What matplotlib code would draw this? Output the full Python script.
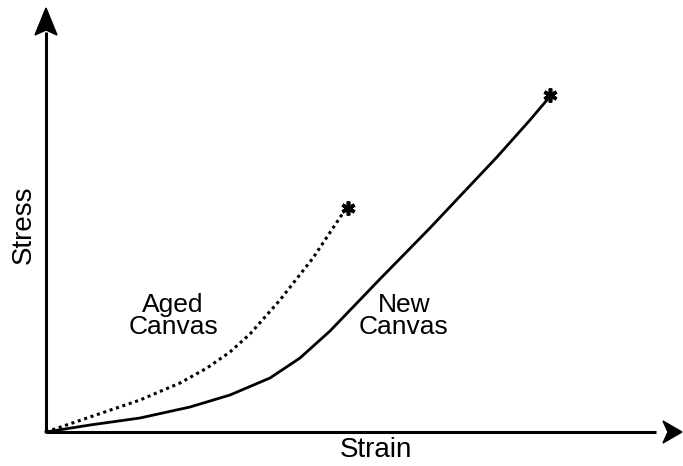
import numpy as np
import matplotlib.pyplot as plt
from matplotlib.patches import Polygon

plt.rcParams['font.family'] = ['Liberation Sans', 'DejaVu Sans']

# curvas (unidades arbitrarias)
aged_strain = [0.0, 0.44, 0.94, 1.34, 1.61, 1.84, 2.04, 2.34, 2.67, 2.97]
aged_stress = [0.0, 0.15, 0.32, 0.49, 0.64, 0.80, 0.98, 1.32, 1.74, 2.19]

new_strain = [0.0, 0.44, 0.94, 1.44, 1.84, 2.24, 2.54, 2.84, 3.34, 3.84,
              4.17, 4.51, 4.84, 5.01]
new_stress = [0.0, 0.07, 0.14, 0.25, 0.37, 0.54, 0.74, 1.01, 1.53, 2.04,
              2.39, 2.75, 3.12, 3.32]

fig = plt.figure(figsize=(6.83, 4.66), dpi=100)
ax = fig.add_axes([0, 0, 1, 1])
ax.set_xlim(-0.46, 6.37)
ax.set_ylim(-0.34, 4.32)
ax.axis("off")

# ejes con flechas
ax.plot([0, 0], [0, 4.0], color="black", lw=2.2, solid_capstyle="butt")
ax.plot([0, 6.1], [0, 0], color="black", lw=2.2, solid_capstyle="butt")
ax.add_patch(Polygon([[0, 4.24], [-0.11, 3.97], [0, 4.02], [0.11, 3.97]],
                     closed=True, color="black"))
ax.add_patch(Polygon([[6.36, 0], [6.17, 0.11], [6.22, 0], [6.17, -0.11]],
                     closed=True, color="black"))

ax.plot(aged_strain, aged_stress, color="black", lw=2.2, linestyle=(0, (1, 1.2)))
ax.plot(new_strain, new_stress, color="black", lw=2.0, solid_joinstyle="round")

ax.plot(aged_strain[-1] + 0.05, aged_stress[-1] + 0.05, marker=(6, 2, 0),
        color="black", markersize=10, mew=2.6)
ax.plot(new_strain[-1] + 0.03, new_stress[-1] + 0.05, marker=(6, 2, 0),
        color="black", markersize=10, mew=2.6)

ax.text(1.27, 1.16, "Aged\nCanvas", ha="center", va="center", fontsize=19,
        linespacing=0.85)
ax.text(3.58, 1.16, "New\nCanvas", ha="center", va="center", fontsize=19,
        linespacing=0.85)

ax.text(3.30, -0.18, "Strain", ha="center", va="center", fontsize=20)
ax.text(-0.22, 2.07, "Stress", ha="center", va="center", fontsize=20,
        rotation=90)

plt.savefig("out.png", dpi=100)
